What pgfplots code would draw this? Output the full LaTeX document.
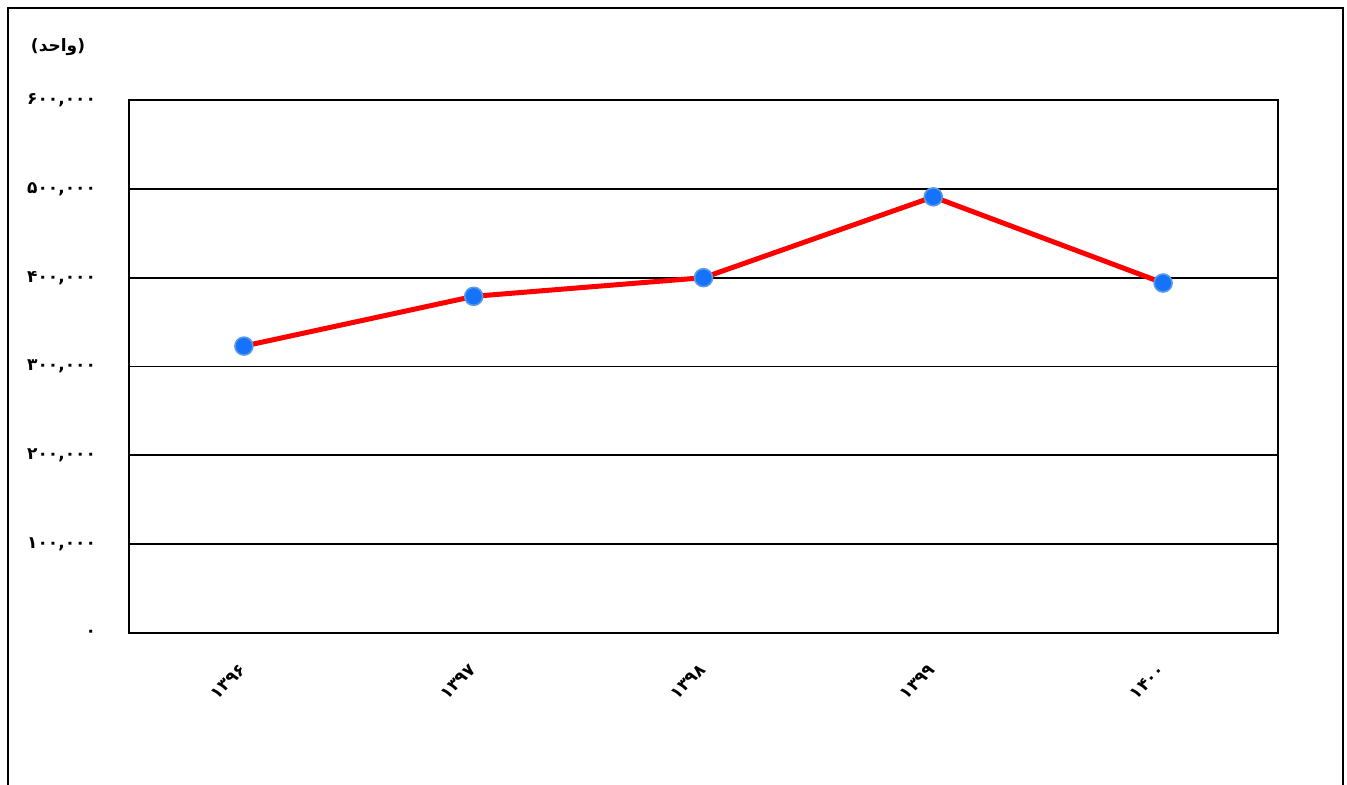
\documentclass[border=0pt]{standalone}
\usepackage{pgfplots}
\pgfplotsset{compat=1.18}
\usepackage{fontspec}
\setmainfont{DejaVu Sans}
\newfontfamily\fa[Script=Arabic]{DejaVu Sans}
\TeXXeTstate=1
\definecolor{linered}{RGB}{255,0,0}
\definecolor{markblue}{RGB}{20,115,250}
\definecolor{markedge}{RGB}{90,155,230}
\begin{document}
\begin{tikzpicture}[x=0.5pt,y=0.5pt]
\useasboundingbox (0,0) rectangle (1347,784);
\draw[line width=0.9pt] (8,-20) rectangle (1343,776);
\node[font=\fa\bfseries\fontsize{8.5}{9}\selectfont] at (58,737) {\beginR(واحد)\endR};
\begin{axis}[
  at={(64.5pt,75.5pt)}, anchor=south west,
  scale only axis, width=574.5pt, height=266.5pt,
  xmin=-0.5, xmax=4.5, ymin=0, ymax=600000,
  scaled y ticks=false,
  xtick={0,1,2,3,4},
  xticklabels={۱۳۹۶,۱۳۹۷,۱۳۹۸,۱۳۹۹,۱۴۰۰},
  ytick={0,100000,200000,300000,400000,500000,600000},
  yticklabels={۰,{۱۰۰,۰۰۰},{۲۰۰,۰۰۰},{۳۰۰,۰۰۰},{۴۰۰,۰۰۰},{۵۰۰,۰۰۰},{۶۰۰,۰۰۰}},
  major tick length=0pt,
  ymajorgrids, grid style={black, line width=0.9pt},
  axis line style={black, line width=0.9pt},
  tick label style={font=\fa\bfseries\fontsize{8.5}{9}\selectfont},
  xticklabel style={yshift=-14.5pt, xshift=2pt, rotate=45, anchor=east},
  yticklabel style={anchor=east, xshift=-13pt},
  clip=false,
]
\addplot[linered, line width=2.5pt, mark=*, mark size=4.5pt,
  mark options={fill=markblue, draw=markedge, line width=0.8pt}]
  coordinates {(0,323000) (1,379000) (2,400000) (3,491000) (4,394000)};
\end{axis}
\end{tikzpicture}
\end{document}
